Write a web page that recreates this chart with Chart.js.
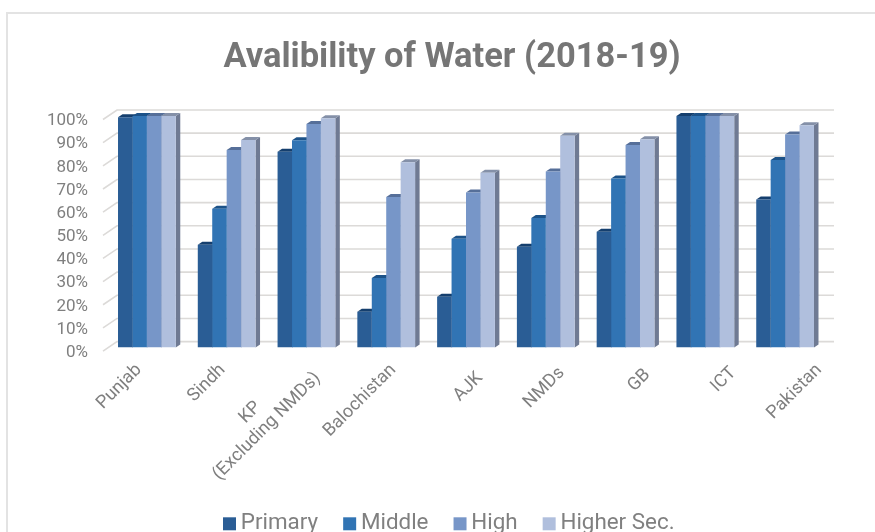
<!DOCTYPE html>
<html><head><meta charset="utf-8">
<style>
html,body{margin:0;padding:0;width:875px;height:532px;overflow:hidden;background:#fff}
#wrap{position:relative;width:875px;height:532px;overflow:hidden}
#frame{position:absolute;left:6px;top:12px;width:880px;height:540px;border:2px solid #e3e3e3;box-sizing:border-box}
canvas{position:absolute;left:0;top:0}
</style>
<script src="https://cdn.jsdelivr.net/npm/chart.js@4"></script>
</head><body>
<div id="wrap"><div id="frame"></div><canvas id="c" width="875" height="545" style="width:875px;height:545px"></canvas></div>
<script>
const nb='\u00A0';
const categories = ['Punjab','Sindh',['KP'+nb.repeat(14),'(Excluding NMDs)'],'Balochistan','AJK','NMDs','GB','ICT','Pakistan'];
const primary = [99.5,44.4,84.6,15.5,22,43.5,50,100,64];
const middle  = [100,60,89.5,30,47,56,73,100,81];
const high    = [100,85.3,96.5,65,67,76,87.5,100,92];
const higher  = [100,89.6,99,80,75.5,91.5,90,100,96];
const yTicks = [0,10,20,30,40,50,60,70,80,90,100];
const labelNudgeX = [0,4,4,15,22,24,30,36,42];
const labelNudgeY = [0,0,-7,0,8,3,5,3,0];

const depth = {bx:4.5, by:3, gx0:-4, gy0:3.5, gx1:10, gy1:-6};

const threeD = {
  id:'threeD',
  afterLayout(chart){
    const y=chart.scales.y; y.left=20;
    const x=chart.scales.x; x.bottom=chart.height;
  },
  beforeDatasetsDraw(chart){
    const {ctx, scales:{x,y}} = chart;
    ctx.save();
    ctx.strokeStyle='#dcdad8'; ctx.lineWidth=1.6;
    y.ticks.forEach(t=>{
      const p=y.getPixelForValue(t.value);
      ctx.beginPath();
      ctx.moveTo(x.left+depth.gx0,p+depth.gy0);
      ctx.lineTo(x.left+depth.gx1,p+depth.gy1);
      ctx.lineTo(x.right+depth.gx1-1,p+depth.gy1);
      ctx.stroke();
    });
    chart.data.datasets.forEach((ds,i)=>{
      chart.getDatasetMeta(i).data.forEach(b=>{
        const l=b.x-b.width/2, r=b.x+b.width/2, t=b.y, bt=b.base;
        ctx.fillStyle=ds.sideColor;
        ctx.beginPath();
        ctx.moveTo(r,t);ctx.lineTo(r+depth.bx,t-depth.by);ctx.lineTo(r+depth.bx,bt-depth.by);ctx.lineTo(r,bt);ctx.closePath();ctx.fill();
        ctx.fillStyle=ds.topColor;
        ctx.beginPath();
        ctx.moveTo(l,t);ctx.lineTo(l+depth.bx,t-depth.by);ctx.lineTo(r+depth.bx,t-depth.by);ctx.lineTo(r,t);ctx.closePath();ctx.fill();
      });
    });
    ctx.restore();
  }
};

const mk=(label,data,bg,top,side)=>({label,data,backgroundColor:bg,topColor:top,sideColor:side,borderWidth:0,
  barPercentage:1,categoryPercentage:0.724});

new Chart(document.getElementById('c'),{
  type:'bar',
  data:{labels:categories,datasets:[
    mk('Primary',primary,'#2a5d95','#153f6e','#1f4a7a'),
    mk('Middle',middle,'#3174b4','#1c5288','#255d94'),
    mk('High',high,'#7796c8','#566f99','#5a7099'),
    mk('Higher Sec.',higher,'#b0bfdd','#8490a8','#6f7a93')
  ]},
  plugins:[threeD],
  options:{
    responsive:false,animation:false,
    layout:{padding:{left:79,right:50,top:0,bottom:0}},
    plugins:{
      title:{display:true,text:'Avalibility of Water (2018-19)',color:'#767676',
        font:{family:'Roboto',size:34.5,weight:'bold'},padding:{top:38,bottom:36.6}},
      legend:{position:'bottom',
        labels:{color:'#808080',font:{family:'Roboto',size:22.4},usePointStyle:true,pointStyle:'rect',
          boxHeight:13,boxWidth:0.1,padding:31.5}},
      tooltip:{enabled:false}
    },
    scales:{
      x:{grid:{display:false},border:{display:false},
        afterFit(s){
          s.height=133.5;
          if(!s._nudged){
            s._nudged=true;
            const orig=s._computeLabelItems;
            s._computeLabelItems=function(a){
              const items=orig.call(this,a);
              items.forEach((it,i)=>{
                it.options.translation[0]+=labelNudgeX[i]||0;
                it.options.translation[1]+=labelNudgeY[i]||0;
              });
              return items;
            };
          }
        },
        ticks:{maxRotation:45,minRotation:45,color:'#7f7f7f',font:{family:'Roboto',size:18},padding:4,labelOffset:-8,autoSkip:false}},
      y:{min:0,max:100,grid:{display:false},border:{display:false},
        afterFit(s){s.width=28;},
        afterBuildTicks(s){s.ticks=yTicks.map(value=>({value}));},
        ticks:{callback:v=>v+'%',color:'#7f7f7f',font:{family:'Roboto',size:17},padding:11,labelOffset:5,autoSkip:false}}
    }
  }
});
</script>
</body></html>
